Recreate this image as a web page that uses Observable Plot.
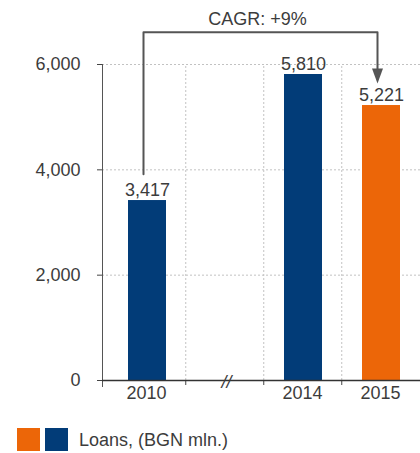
<!DOCTYPE html>
<html>
<head>
<meta charset="utf-8">
<script src="https://cdn.jsdelivr.net/npm/d3@7"></script>
<script src="https://cdn.jsdelivr.net/npm/@observablehq/plot@0.6"></script>
<style>
  body { margin: 0; background: #fff; font-family: "Liberation Sans", Arial, sans-serif; }
  #chart svg { display: block; }
  .legend { position: relative; height: 43px; }
  .sw { position: absolute; top: 18px; width: 23px; height: 23px; }
  .lt { position: absolute; left: 79px; top: 20px; font-size: 18px; color: #3c3c3c; line-height: 20px; }
</style>
</head>
<body>
<div id="chart"></div>
<div class="legend">
  <div class="sw" style="left:17px;background:#ec6608"></div>
  <div class="sw" style="left:45px;background:#023c78"></div>
  <div class="lt">Loans, (BGN mln.)</div>
</div>
<script>
// Data
const categories = ["2010", "gap", "2014", "2015"];
const years = ["2010", "2014", "2015"];
const loans = [3417, 5810, 5221];
const barColors = ["#023c78", "#023c78", "#ec6608"];
const yTicks = [0, 2000, 4000, 6000];
const breakLabel = "//";
const cagrLabel = "CAGR: +9%";

const rows = years.map((y, i) => ({year: y, value: loans[i], color: barColors[i]}));

const x0 = 106;
const step = (420 - x0) / 4;
const bracketTop = d3.max(loans) + 800;
const bracketStart = loans[0] + 500;
const arrowTip = loans[2] + 420;
const bracket = [
  {x: years[0], y: bracketStart},
  {x: years[0], y: bracketTop},
  {x: years[2], y: bracketTop},
  {x: years[2], y: arrowTip + 150}
];
const triangle = {
  draw(ctx) {
    ctx.moveTo(-5.5, -15);
    ctx.lineTo(5.5, -15);
    ctx.lineTo(0, 0);
    ctx.closePath();
  }
};
const font = "'Liberation Sans', Arial, sans-serif";
const ink = "#3c3c3c";

const chart = Plot.plot({
  width: 420,
  height: 410,
  marginTop: 64,
  marginBottom: 30,
  marginLeft: 102,
  marginRight: 0,
  style: {fontFamily: font, fontSize: "18px", color: "#444", background: "#fff"},
  x: {domain: categories, range: [x0, 420], paddingInner: 0.515, paddingOuter: 0.2575, label: null},
  y: {domain: [0, 6000], label: null},
  marks: [
    Plot.ruleY(yTicks.filter(d => d > 0), {stroke: "#c2c2c2", strokeDasharray: "2,2"}),
    Plot.ruleX(categories.slice(0, 3), {x: d => d, dx: step / 2, y1: 0, y2: 6000, stroke: "#c2c2c2", strokeDasharray: "2,2"}),
    Plot.ruleX(categories.slice(0, 3), {x: d => d, dx: step / 2, y1: 0, y2: 0, insetBottom: -5, stroke: "#444"}),
    Plot.barY(rows, {x: "year", y: "value", fill: "color", dx: 1}),
    Plot.text(rows, {x: "year", y: "value", text: d => d3.format(",")(d.value), lineAnchor: "bottom", dy: -5, dx: 1, fill: ink, fontSize: 18}),
    Plot.axisY({ticks: yTicks, tickSize: 5, tickPadding: 17, tickFormat: d3.format(","), fontSize: 18, fill: ink, label: null}),
    Plot.axisX({ticks: years, tickSize: 0, tickPadding: 6, fontSize: 18, fill: ink, label: null}),
    Plot.frame({anchor: "left", stroke: "#555", insetBottom: -6}),
    Plot.ruleY([0], {stroke: "#333", strokeWidth: 1.5}),
    Plot.text([breakLabel], {x: () => "gap", y: () => 0, text: d => d, fontStyle: "italic", fontSize: 18, fill: ink, dy: 2, dx: 2}),
    Plot.line(bracket, {x: "x", y: "y", stroke: "#555", strokeWidth: 2, dx: -3}),
    Plot.dot([arrowTip], {x: () => years[2], y: d => d, symbol: triangle, fill: "#555", stroke: null, dx: -3}),
    Plot.text([cagrLabel], {y: () => bracketTop, text: d => d, lineAnchor: "bottom", dy: -7, dx: -4, fontSize: 18, fill: ink})
  ]
});
document.getElementById("chart").append(chart);
</script>
</body>
</html>
